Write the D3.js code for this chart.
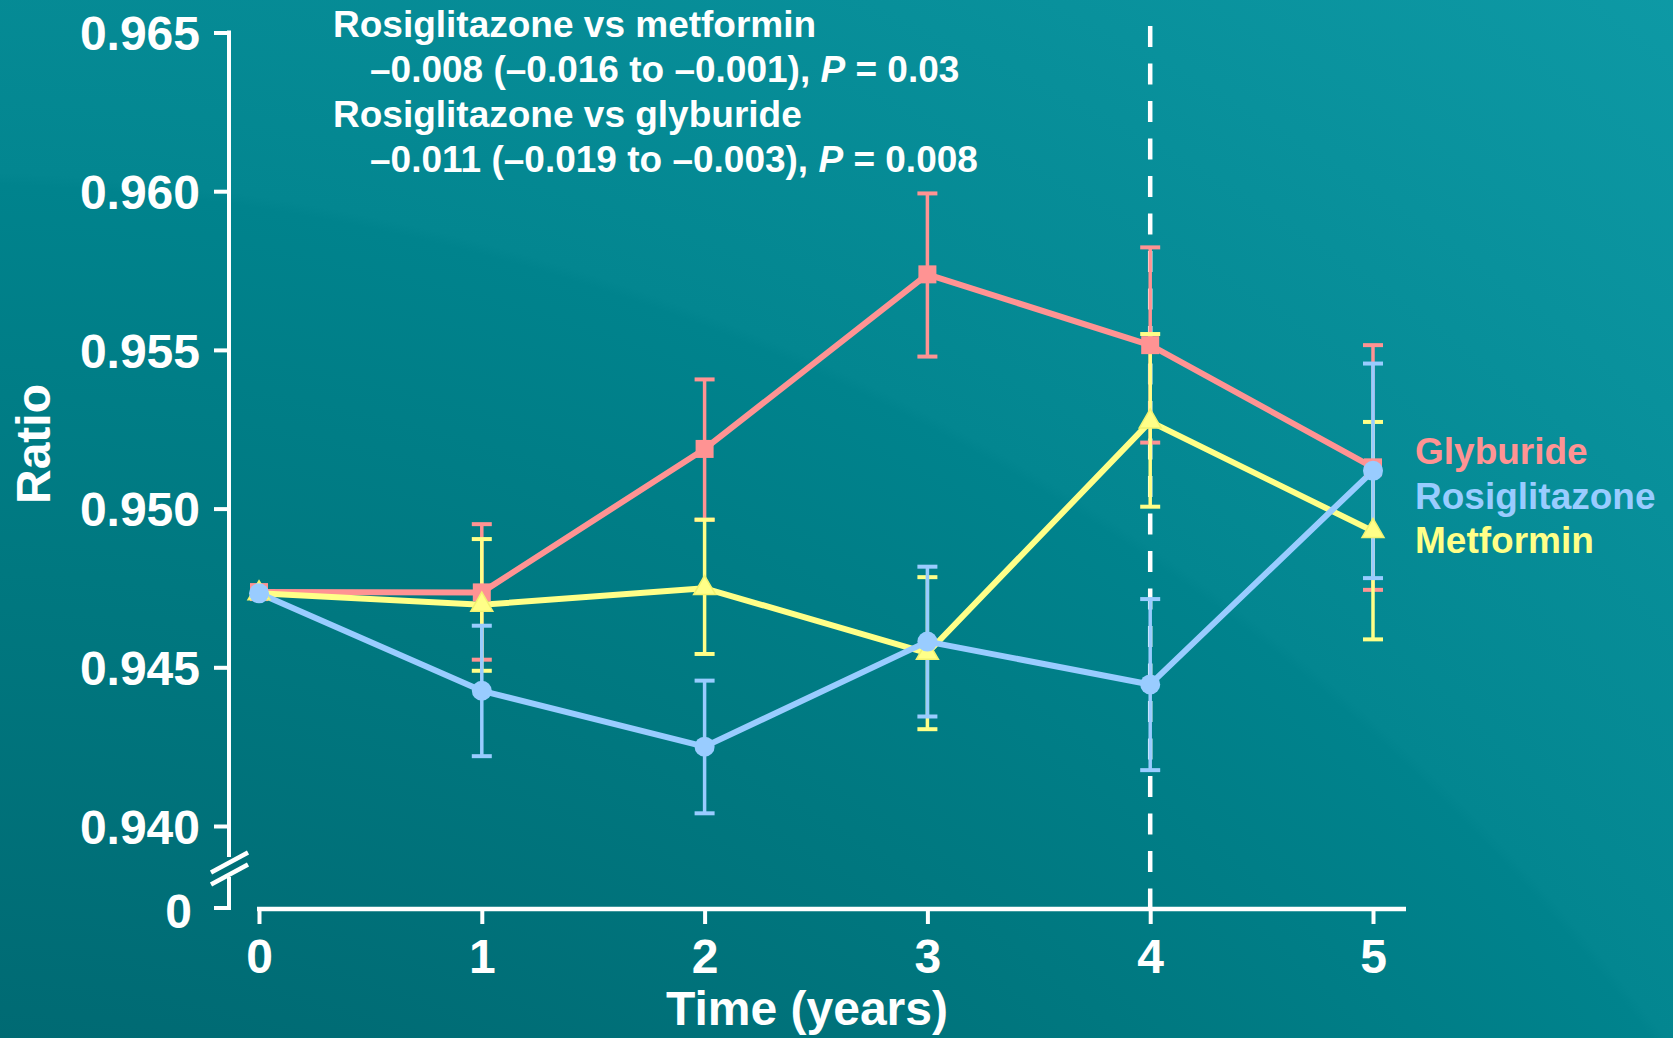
<!DOCTYPE html>
<html>
<head>
<meta charset="utf-8">
<script src="https://cdn.jsdelivr.net/npm/d3@7"></script>
<style>
  html, body { margin: 0; padding: 0; background: #007a84; }
  svg { display: block; }
  text { font-family: "Liberation Sans", Arial, Helvetica, sans-serif; font-weight: bold; }
</style>
</head>
<body>
<svg id="chart" width="1673" height="1038"></svg>
<script>
// ---------------- data ----------------
const years = [0, 1, 2, 3, 4, 5];
const xTickLabels = ["0", "1", "2", "3", "4", "5"];
const yTicks = [0.940, 0.945, 0.950, 0.955, 0.960, 0.965];
const yZeroLabel = "0";

const seriesNames = ["Glyburide", "Rosiglitazone", "Metformin"];

const glyburideMean = [0.94737, 0.94736, 0.95188, 0.95738, 0.95515, 0.95130];
const glyburideLow  = [null, 0.94524, 0.94965, 0.95479, 0.95208, 0.94744];
const glyburideHigh = [null, 0.94951, 0.95407, 0.95993, 0.95823, 0.95515];

const rosiglitazoneMean = [0.94733, 0.94426, 0.94250, 0.94581, 0.94446, 0.95119];
const rosiglitazoneLow  = [null, 0.94220, 0.94040, 0.94345, 0.94176, 0.94781];
const rosiglitazoneHigh = [null, 0.94631, 0.94458, 0.94817, 0.94715, 0.95457];

const metforminMean = [0.94733, 0.94697, 0.94749, 0.94545, 0.95274, 0.94929];
const metforminLow  = [null, 0.94489, 0.94542, 0.94305, 0.95006, 0.94588];
const metforminHigh = [null, 0.94904, 0.94965, 0.94784, 0.95550, 0.95273];

const dashedYear = 4;

const annotationLines = [
  {text: "Rosiglitazone vs metformin", indent: false},
  {pre: "\u20130.008 (\u20130.016 to \u20130.001), ", p: "P", post: " = 0.03", indent: true},
  {text: "Rosiglitazone vs glyburide", indent: false},
  {pre: "\u20130.011 (\u20130.019 to \u20130.003), ", p: "P", post: " = 0.008", indent: true}
];
const xTitle = "Time (years)";
const yTitle = "Ratio";

// ---------------- styles ----------------
const colors = { Glyburide: "#FF9393", Rosiglitazone: "#99CCFF", Metformin: "#FFFF88" };

const svg = d3.select("#chart");
const W = 1673, H = 1038;

// background
const defs = svg.append("defs");
const rg = defs.append("radialGradient")
  .attr("id", "bg").attr("gradientUnits", "userSpaceOnUse")
  .attr("cx", -68).attr("cy", 2340).attr("r", 2950);
rg.append("stop").attr("offset", 0).attr("stop-color", "#005c65");
rg.append("stop").attr("offset", 0.44).attr("stop-color", "#006a73");
rg.append("stop").attr("offset", 0.60).attr("stop-color", "#007880");
rg.append("stop").attr("offset", 0.731).attr("stop-color", "#00838d");
rg.append("stop").attr("offset", 0.735).attr("stop-color", "#038690");
rg.append("stop").attr("offset", 1).attr("stop-color", "#0e9aa6");
svg.append("rect").attr("width", W).attr("height", H).attr("fill", "url(#bg)");

// scales
const x = d3.scaleLinear().domain([0, 5]).range([259, 1373]);
const y = d3.scaleLinear().domain([0.940, 0.965]).range([826, 32.5]);
const axisX = 229, axisY = 909, zeroY = 908;

// y axis
const gy = svg.append("g").attr("transform", `translate(${axisX},0)`)
  .call(d3.axisLeft(y).tickValues(yTicks).tickFormat(d3.format(".3f")).tickSize(15).tickPadding(14));
gy.select(".domain").remove();
gy.selectAll(".tick line").attr("stroke", "#fff").attr("stroke-width", 4);
gy.selectAll(".tick text").attr("fill", "#fff").attr("font-size", 48).attr("dy", "0.36em")
  .attr("font-family", "Liberation Sans, Arial, sans-serif").attr("font-weight", "bold");

// y axis line with break
svg.append("line").attr("x1", axisX).attr("x2", axisX).attr("y1", y(0.965) - 2).attr("y2", 857)
  .attr("stroke", "#fff").attr("stroke-width", 4);
svg.append("line").attr("x1", axisX).attr("x2", axisX).attr("y1", 877).attr("y2", zeroY + 2)
  .attr("stroke", "#fff").attr("stroke-width", 4);
svg.append("line").attr("x1", 211).attr("y1", 872.5).attr("x2", 248).attr("y2", 852.5)
  .attr("stroke", "#fff").attr("stroke-width", 4.5);
svg.append("line").attr("x1", 211).attr("y1", 884.5).attr("x2", 248).attr("y2", 864.5)
  .attr("stroke", "#fff").attr("stroke-width", 4.5);
// zero tick
svg.append("line").attr("x1", 214).attr("x2", axisX + 2).attr("y1", zeroY).attr("y2", zeroY)
  .attr("stroke", "#fff").attr("stroke-width", 4);
svg.append("text").attr("x", 192).attr("y", 928).attr("text-anchor", "end")
  .attr("fill", "#fff").attr("font-size", 48).text(yZeroLabel);

// x axis
const gx = svg.append("g").attr("transform", `translate(0,${axisY})`)
  .call(d3.axisBottom(x).tickValues(years).tickFormat((d, i) => xTickLabels[i]).tickSize(15).tickPadding(15));
gx.select(".domain").remove();
gx.selectAll(".tick line").attr("stroke", "#fff").attr("stroke-width", 4);
gx.selectAll(".tick text").attr("fill", "#fff").attr("font-size", 48)
  .attr("font-family", "Liberation Sans, Arial, sans-serif").attr("font-weight", "bold");
svg.append("line").attr("x1", x(0) - 2).attr("x2", 1406).attr("y1", axisY).attr("y2", axisY)
  .attr("stroke", "#fff").attr("stroke-width", 4.5);

// dashed line at year 4
svg.append("line").attr("x1", x(dashedYear)).attr("x2", x(dashedYear))
  .attr("y1", 26).attr("y2", axisY)
  .attr("stroke", "#fff").attr("stroke-width", 4.5).attr("stroke-dasharray", "21 16.5");

// series
const series = [
  {name: "Glyburide", mean: glyburideMean, low: glyburideLow, high: glyburideHigh, shape: "square"},
  {name: "Metformin", mean: metforminMean, low: metforminLow, high: metforminHigh, shape: "triangle"},
  {name: "Rosiglitazone", mean: rosiglitazoneMean, low: rosiglitazoneLow, high: rosiglitazoneHigh, shape: "circle"}
];

// error bars
series.forEach(s => {
  const g = svg.append("g");
  const c = colors[s.name];
  years.forEach((yr, i) => {
    if (s.low[i] == null) return;
    const cx = x(yr);
    g.append("line").attr("x1", cx).attr("x2", cx).attr("y1", y(s.high[i])).attr("y2", y(s.low[i]))
      .attr("stroke", c).attr("stroke-width", 3.5);
    [s.high[i], s.low[i]].forEach(v => {
      g.append("line").attr("x1", cx - 10).attr("x2", cx + 10).attr("y1", y(v)).attr("y2", y(v))
        .attr("stroke", c).attr("stroke-width", 4);
    });
  });
});

// lines
const lineGen = d3.line().x((d, i) => x(years[i])).y(d => y(d));
series.forEach(s => {
  svg.append("path").attr("d", lineGen(s.mean)).attr("fill", "none")
    .attr("stroke", colors[s.name]).attr("stroke-width", 6).attr("stroke-linejoin", "round");
});

// markers
series.forEach(s => {
  const c = colors[s.name];
  const g = svg.append("g");
  s.mean.forEach((v, i) => {
    const cx = x(years[i]), cy = y(v);
    if (s.shape === "square") {
      g.append("rect").attr("x", cx - 9).attr("y", cy - 9).attr("width", 18).attr("height", 18).attr("fill", c);
    } else if (s.shape === "circle") {
      g.append("circle").attr("cx", cx).attr("cy", cy).attr("r", 10).attr("fill", c);
    } else {
      g.append("path").attr("transform", `translate(${cx},${cy})`)
        .attr("d", d3.symbol(d3.symbolTriangle, 210)())
        .attr("fill", c).attr("stroke", "#F2F270").attr("stroke-width", 1.5);
    }
  });
});

// annotation
const ann = svg.append("g");
const annBaselines = [37, 82, 127, 172];
annotationLines.forEach((l, i) => {
  const t = ann.append("text").attr("x", l.indent ? 370 : 333).attr("y", annBaselines[i])
    .attr("fill", "#fff").attr("font-size", 37);
  if (l.text) t.text(l.text);
  else {
    t.append("tspan").text(l.pre);
    t.append("tspan").attr("font-style", "italic").text(l.p);
    t.append("tspan").text(l.post);
  }
});

// legend
const legendBaselines = [464, 509, 553];
seriesNames.forEach((n, i) => {
  svg.append("text").attr("x", 1415).attr("y", legendBaselines[i])
    .attr("fill", colors[n]).attr("font-size", 37).text(n);
});

// axis titles
svg.append("text").attr("x", 807).attr("y", 1025).attr("text-anchor", "middle")
  .attr("fill", "#fff").attr("font-size", 48).text(xTitle);
svg.append("text").attr("transform", "translate(50,444) rotate(-90)").attr("text-anchor", "middle")
  .attr("fill", "#fff").attr("font-size", 48).text(yTitle);
</script>
</body>
</html>
